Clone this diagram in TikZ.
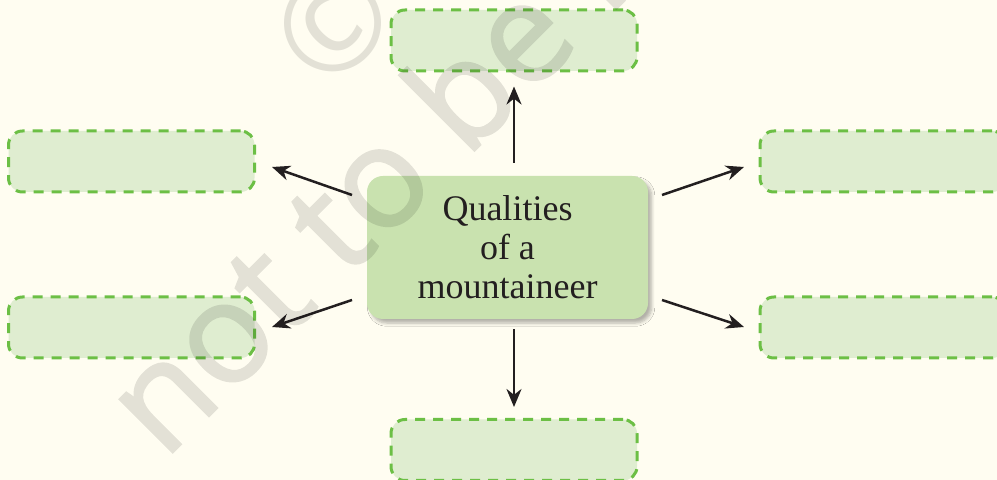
\documentclass[tikz,border=0pt]{standalone}
\usepackage{fontspec}
\setmainfont{Liberation Serif}
\newfontfamily\wmfont[FakeBold=1.6]{Open Sans}
\newfontfamily\wmthin{Open Sans}
\usetikzlibrary{arrows.meta,shadows.blur,calc}
\definecolor{bgcream}{RGB}{255,253,241}
\definecolor{lightbox}{RGB}{223,237,208}
\definecolor{midbox}{RGB}{201,226,175}
\definecolor{dashgreen}{RGB}{108,191,69}
\definecolor{ink}{RGB}{35,31,32}
\tikzset{
  blank/.style={draw=dashgreen, fill=lightbox, line width=1.5pt, dash pattern=on 5pt off 4pt,
    rounded corners=7pt, minimum width=123pt, minimum height=30.5pt, inner sep=0pt},
  hub/.style={fill=midbox, rounded corners=8pt, minimum width=140.5pt, minimum height=71.5pt,
    inner sep=0pt, align=center, text=ink, font=\fontsize{18}{19.5}\selectfont,
    blur shadow={shadow xshift=1.8pt, shadow yshift=-2pt, shadow blur steps=6,
      shadow blur radius=1.6pt, shadow opacity=30}},
  arr/.style={draw=ink, line width=1.25pt, -{Stealth[length=9pt, width=7.5pt]}},
  wm/.style={text=black, inner sep=0pt, rotate=45,
    font=\wmfont\fontsize{70}{70}\selectfont}
}
\begin{document}
\begin{tikzpicture}[x=0.5pt, y=-0.5pt]
\fill[bgcream] (0,0) rectangle (997,480);
\useasboundingbox (0,0) rectangle (997,480);
\begin{scope}
\clip (0,0) rectangle (997,480);
\node[blank] (t) at (514,40.5) {};
\node[blank] (lt) at (131.5,161.5) {};
\node[blank] (lb) at (131.5,327.5) {};
\node[blank] (rt) at (883,161.5) {};
\node[blank] (rb) at (883,327.5) {};
\node[blank] (b) at (514,450) {};
\node[hub] (c) at (507.5,247.5) {Qualities\\of a\\mountaineer};
\coordinate (ltS) at (352,195); \coordinate (ltE) at (272,167);
\coordinate (lbS) at (352,300); \coordinate (lbE) at (272,327);
\coordinate (rtS) at (662,195); \coordinate (rtE) at (744,167);
\coordinate (rbS) at (662,300); \coordinate (rbE) at (744,327);
\draw[arr, shorten <=6.5pt, shorten >=7pt] (c.north -| t.south) -- (t.south);
\draw[arr, shorten <=5pt, shorten >=5.5pt] (c.south -| b.north) -- (b.north);
\draw[arr] (ltS) -- (ltE);
\draw[arr] (lbS) -- (lbE);
\draw[arr] (rtS) -- (rtE);
\draw[arr] (rbS) -- (rbE);
\begin{scope}[transparency group, opacity=0.11]
\node[wm, anchor=base west] (wm1) at (164,461) {not to be r};
\node[wm, anchor=center, font=\wmthin\fontsize{66}{66}\selectfont] (wm2) at (333,23) {©};
\end{scope}
\end{scope}
\end{tikzpicture}
\end{document}
